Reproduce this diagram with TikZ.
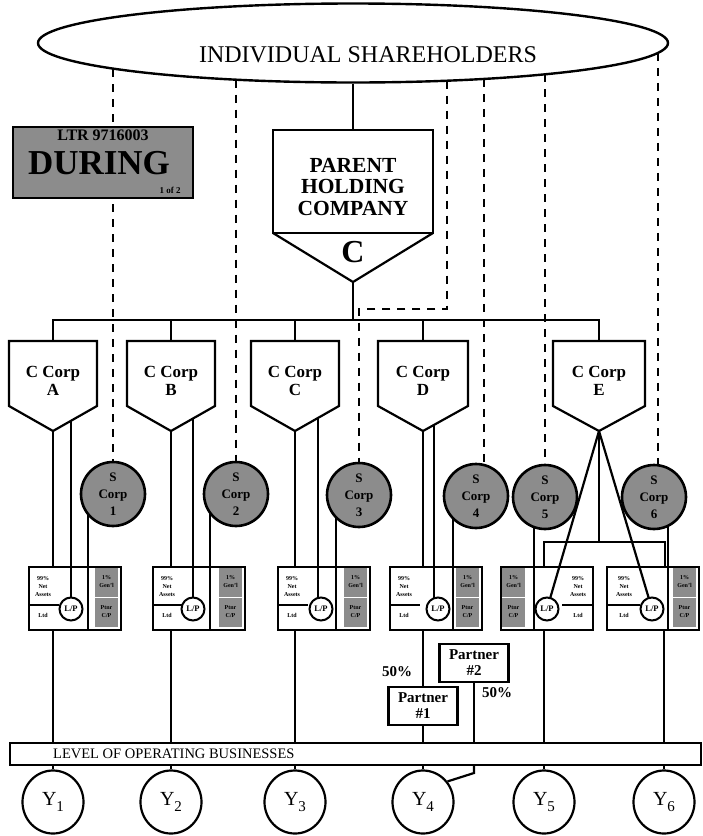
\documentclass[tikz,border=0pt]{standalone}
\usepackage{fontspec}
\setmainfont{Liberation Serif}
\usetikzlibrary{shapes.geometric,calc}
\pgfdeclarelayer{bg}
\pgfsetlayers{bg,main}
\newcommand\fsz[2]{\fontsize{#1}{#2}\selectfont}
\newcommand\pent[4]{%
 \draw[shp] (#2,341) -- (#3,341) -- (#3,406) -- ({(#2+#3)/2},431) -- (#2,406) -- cycle;
 \coordinate (#1top) at ({(#2+#3)/2},341);
 \coordinate (#1tip) at ({(#2+#3)/2},431);
 \coordinate (#1sr) at (#3,406);
 \node[cct] (#1lab) at ({(#2+#3)/2},381) {C Corp\\#4};
}
\newcommand\lpR[5]{%
 \node[lpbox, anchor=north west] (#1) at (#2,566) {};
 \node[panel, anchor=north east] (#1p) at ({#2+90},568) {};
 \draw[white, line width=1.2pt] ({#2+67},597.5) -- ({#2+90},597.5);
 \node[tinyt] (#1u) at ({#2+78.5},582) {1\%\\Gen'l};
 \node[tinyt] (#1v) at ({#2+78.5},612) {Ptnr\\C/P};
 \node[tinyt] (#1a) at (#5,587) {99\%\\Net\\Assets};
 \draw[line width=1.2pt] (#2,605) -- ({#5+16},605);
 \node[tinyt] (#1b) at (#5,615) {Ltd};
 \node[lpc] (#1c) at (#3,609) {L/P};
 \coordinate (#1d) at (#4,629);
}
\newcommand\lpL[5]{%
 \node[lpbox, anchor=north west] (#1) at (#2,566) {};
 \node[panel, anchor=north west] (#1p) at ({#2+2},568) {};
 \draw[white, line width=1.2pt] ({#2+2},597.5) -- ({#2+25},597.5);
 \node[tinyt] (#1u) at ({#2+13.5},582) {1\%\\Gen'l};
 \node[tinyt] (#1v) at ({#2+13.5},612) {Ptnr\\C/P};
 \node[tinyt] (#1a) at (#5,587) {99\%\\Net\\Assets};
 \draw[line width=1.2pt] ({#5-16},605) -- ({#2+92},605);
 \node[tinyt] (#1b) at (#5,615) {Ltd};
 \node[lpc] (#1c) at (#3,609) {L/P};
 \coordinate (#1d) at (#4,629);
}
\newcommand\Ylab[1]{Y\raisebox{-6pt}{\fsz{15}{15}#1}}
\begin{document}
\begin{tikzpicture}[x=1pt,y=-1pt,
 ln/.style={line width=2.2pt},
 dsh/.style={line width=2.6pt, dash pattern=on 8pt off 7pt},
 shp/.style={draw, line width=2.2pt, line join=miter},
 scorp/.style={circle, draw, line width=2.6pt, fill=black!45, minimum size=64pt, inner sep=0pt, font=\fsz{13}{17}\bfseries, align=center},
 lpbox/.style={draw, line width=2.2pt, minimum width=92pt, minimum height=63pt, inner sep=0pt},
 lpc/.style={circle, draw, line width=2pt, fill=white, minimum size=23pt, inner sep=0pt, font=\fsz{8.5}{9}\bfseries},
 tinyt/.style={font=\fsz{6}{8}\bfseries, align=center, inner sep=0pt},
 panel/.style={fill=black!45, minimum width=23pt, minimum height=59pt, inner sep=0pt},
 ptn/.style={draw, line width=2.2pt, fill=white, minimum width=69pt, minimum height=38pt, inner sep=0pt, font=\fsz{15}{16}\bfseries, align=center},
 yell/.style={ellipse, draw, line width=2.2pt, fill=white, minimum width=61pt, minimum height=63pt, inner sep=0pt, font=\fsz{20}{20}},
 cct/.style={font=\fsz{17}{18}\bfseries, align=center, inner sep=0pt},
]
\useasboundingbox (0,0) rectangle (703,836);

% shareholders
\node[ellipse, draw, line width=2.4pt, minimum width=630pt, minimum height=79pt, inner sep=0pt] (sh) at (353,43) {};
\node[font=\fsz{24}{24}, inner sep=0pt] (sht) at (368,55) {INDIVIDUAL SHAREHOLDERS};

% stamp
\node[draw, line width=1.6pt, fill=black!45, minimum width=180pt, minimum height=71pt, inner sep=0pt] (dur) at (103,162.5) {};
\node[font=\fsz{16}{16}\bfseries, inner sep=0pt] (ltr) at (103,135) {LTR 9716003};
\node[font=\fsz{35}{35}\bfseries, inner sep=0pt] (dng) at (99,163) {DURING};
\node[font=\fsz{9}{9}\bfseries, inner sep=0pt] (pg) at (170,190) {1 of 2};

% parent
\draw[shp] (273,130) rectangle (433,233);
\draw[shp] (273,233) -- (353,282) -- (433,233);
\coordinate (Ptop) at (353,130);
\coordinate (Ptip) at (353,282);
\node[font=\fsz{21.5}{21.5}\bfseries, align=center, inner sep=0pt] (ptx) at (353,187) {PARENT\\HOLDING\\COMPANY};
\node[font=\fsz{32}{32}\bfseries, inner sep=0pt] (pcl) at (353,252) {C};

% C corps
\pent{A}{9}{97}{A}
\pent{B}{127}{215}{B}
\pent{C}{251}{339}{C}
\pent{D}{378}{468}{D}
\pent{E}{553}{645}{E}

% S corps
\node[scorp] (s1) at (113,494) {S\\Corp\\1};
\node[scorp] (s2) at (236,494) {S\\Corp\\2};
\node[scorp] (s3) at (359,495) {S\\Corp\\3};
\node[scorp] (s4) at (476,496) {S\\Corp\\4};
\node[scorp] (s5) at (545,497) {S\\Corp\\5};
\node[scorp] (s6) at (654,497) {S\\Corp\\6};

% L/P boxes
\lpR{lpA}{28}{71}{88}{43}
\lpR{lpB}{152}{193}{210}{167}
\lpR{lpC}{277}{321}{336}{292}
\lpR{lpD}{389}{438}{453}{404}
\lpL{lpE}{500}{547}{534}{578}
\lpR{lpF}{606}{652}{668}{624}

% partners
\node[ptn] (p1) at (423,706) {Partner\\\#1};
\node[ptn] (p2) at (474,663) {Partner\\\#2};
\node[font=\fsz{15}{15}\bfseries, inner sep=0pt] (pa) at (397,672) {50\%};
\node[font=\fsz{15}{15}\bfseries, inner sep=0pt] (pb) at (497,693) {50\%};

% level
\node[draw, line width=2pt, minimum width=691pt, minimum height=22pt, inner sep=0pt, anchor=north west] (lvl) at (9,742) {};
\node[font=\fsz{14.5}{14.5}, inner sep=0pt, anchor=west] (lvlt) at (53,754) {LEVEL OF OPERATING BUSINESSES};

\node[yell] (y1) at (53,802) {\Ylab{1}};
\node[yell] (y2) at (171,802) {\Ylab{2}};
\node[yell] (y3) at (295,802) {\Ylab{3}};
\node[yell] (y4) at (423,802) {\Ylab{4}};
\node[yell] (y5) at (544,802) {\Ylab{5}};
\node[yell] (y6) at (664,802) {\Ylab{6}};

\begin{pgfonlayer}{bg}
\draw[ln] (sh.south) -- (Ptop);
\coordinate (bus) at (0,320);
\draw[ln] (Atop) -- (Atop |- bus) -- (Etop |- bus) -- (Etop);
\draw[ln] (Btop) -- (Btop |- bus);
\draw[ln] (Ctop) -- (Ctop |- bus);
\draw[ln] (Dtop) -- (Dtop |- bus);
\draw[ln] (Ptip) -- (Ptip |- bus);
% dashed links
\coordinate (e1) at (113,69);
\coordinate (e2) at (236,79.7);
\coordinate (e3) at (447,80.7);
\coordinate (e4) at (484,78.9);
\coordinate (e5) at (545,74.2);
\coordinate (e6) at (658,52.9);
\coordinate (k3) at (447,309);
\draw[dsh] (e1) -- (s1.north);
\draw[dsh] (e2) -- (s2.north);
\draw[dsh] (e3) -- (k3) -- (k3 -| s3.north) -- (s3.north);
\draw[dsh] (e4) -- (e4 |- s4.center);
\draw[dsh] (e5) -- (s5.north);
\draw[dsh] (e6) -- (e6 |- s6.center);
% C corp to L/P
\draw[ln] (Atip) -- (Atip |- lpA.north);
\draw[ln] (Atip |- lpA.south) -- (Atip |- lvl.north);
\draw[ln] (Btip) -- (Btip |- lpB.north);
\draw[ln] (Btip |- lpB.south) -- (Btip |- lvl.north);
\draw[ln] (Ctip) -- (Ctip |- lpC.north);
\draw[ln] (Ctip |- lpC.south) -- (Ctip |- lvl.north);
\draw[ln] (Dtip) -- (Dtip |- lpD.north);
\draw[ln] (Dtip |- lpD.south) -- (p1.north);
\draw[ln] (p1.south) -- (p1.south |- lvl.north);
\draw[ln] (p2.south) -- (p2.south |- lvl.north);
\coordinate (y4k) at (474,773);
\draw[ln] (p2.south |- lvl.south) -- (y4k) -- (y4.40);
% second lines to L/P circles
\coordinate (vA1) at (71,0); \coordinate (vA2) at (71,10);
\coordinate (vB1) at (193,0); \coordinate (vB2) at (193,10);
\coordinate (vC1) at (318,0); \coordinate (vC2) at (318,10);
\coordinate (vD1) at (434,0); \coordinate (vD2) at (434,10);
\path (intersection of Asr--Atip and vA1--vA2) coordinate (Aq);
\path (intersection of Bsr--Btip and vB1--vB2) coordinate (Bq);
\path (intersection of Csr--Ctip and vC1--vC2) coordinate (Cq);
\path (intersection of Dsr--Dtip and vD1--vD2) coordinate (Dq);
\draw[ln] (Aq) -- (Aq |- lpAc.center);
\draw[ln] (Bq) -- (Bq |- lpBc.center);
\draw[ln] (Cq) -- (Cq |- lpCc.center);
\draw[ln] (Dq) -- (Dq |- lpDc.center);
% S corp dividers
\draw[ln] (lpAd |- s1.center) -- (lpAd);
\draw[ln] (lpBd |- s2.center) -- (lpBd);
\draw[ln] (lpCd |- s3.center) -- (lpCd);
\draw[ln] (lpDd |- s4.center) -- (lpDd);
\draw[ln] (lpEd |- s5.center) -- (lpEd);
\draw[ln] (lpFd |- s6.center) -- (lpFd);
% E corp
\coordinate (bl) at (544,542);
\coordinate (br) at (665,542);
\draw[ln] (Etip) -- (Etip |- bl);
\draw[ln] (lpE.north -| bl) -- (bl) -- (br) -- (lpF.north -| br);
\draw[ln] (Etip) -- (lpEc.center);
\draw[ln] (Etip) -- (lpFc.center);
\draw[ln] (lpE.south -| y5) -- (y5 |- lvl.north);
\draw[ln] (lpF.south -| y6) -- (y6 |- lvl.north);
% level to Y
\foreach \q in {y1,y2,y3,y4,y5,y6} \draw[ln] (\q.north) -- (\q.north |- lvl.south);
\end{pgfonlayer}
\end{tikzpicture}
\end{document}
